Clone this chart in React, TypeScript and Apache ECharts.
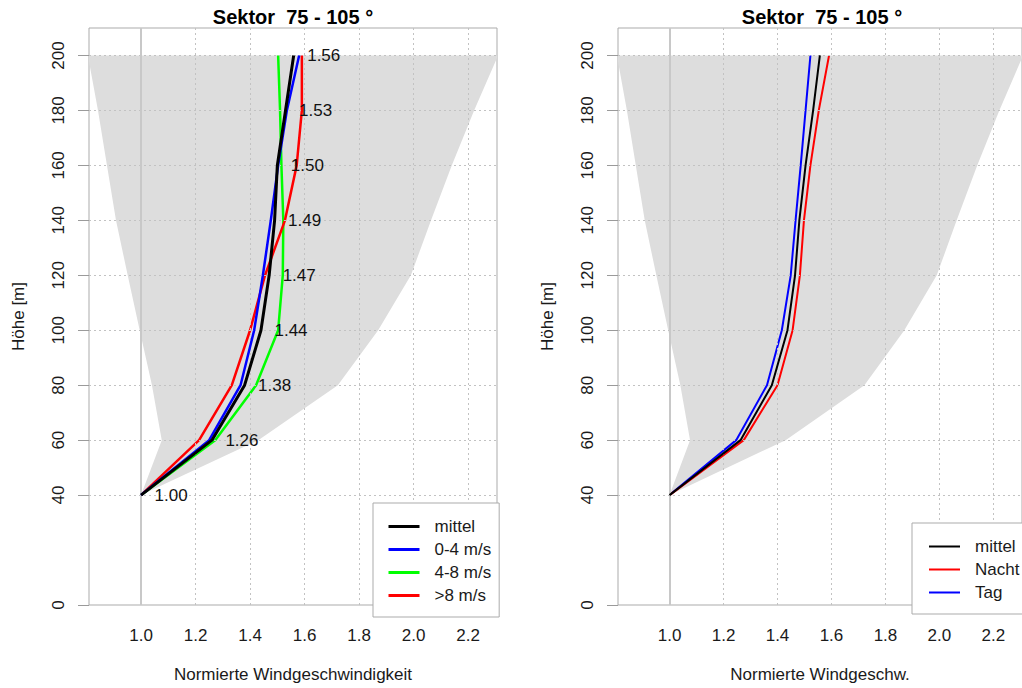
import React, { useEffect, useRef } from "react";
import * as echarts from "echarts";

// ---------- data ----------
const heights = [40, 60, 80, 100, 120, 140, 160, 180, 200];

// left panel (wind speed classes)
const mittelLeft = [1.0, 1.26, 1.38, 1.44, 1.47, 1.49, 1.5, 1.53, 1.56];
const speed04 = [1.0, 1.25, 1.365, 1.415, 1.447, 1.476, 1.503, 1.535, 1.58];
const speed48 = [1.0, 1.272, 1.422, 1.503, 1.52, 1.522, 1.515, 1.51, 1.503];
const speed8 = [1.0, 1.213, 1.333, 1.4, 1.455, 1.528, 1.571, 1.59, 1.59];

// right panel (day / night)
const mittelRight = [1.0, 1.263, 1.379, 1.437, 1.465, 1.481, 1.504, 1.532, 1.557];
const nacht = [1.0, 1.275, 1.4, 1.456, 1.483, 1.498, 1.522, 1.553, 1.591];
const tag = [1.0, 1.247, 1.361, 1.416, 1.449, 1.467, 1.486, 1.504, 1.522];

// grey envelope (min / max per height)
const envLeft = [1.0, 1.076, 1.04, 0.995, 0.951, 0.908, 0.875, 0.842, 0.805];
const envRight = [1.0, 1.43, 1.722, 1.87, 1.99, 2.064, 2.14, 2.222, 2.31];

// axes
const xTickLabels = [1.0, 1.2, 1.4, 1.6, 1.8, 2.0, 2.2];
const yTickLabels = [0, 40, 60, 80, 100, 120, 140, 160, 180, 200];
const xGridLines = [1.2, 1.4, 1.6, 1.8, 2.0, 2.2];
const yGridLines = [40, 60, 80, 100, 120, 140, 160, 180, 200];
const refLine = 1.0;
const X_MIN = 0.809;
const X_MAX = 2.306;
const Y_MIN = 0;
const Y_MAX = 210;

const TITLE = "Sektor  75 - 105 °";
const FONT = "'Liberation Sans', Arial, Helvetica, sans-serif";
const TEXT = "#1a1a1a";

const pairs = (v: number[]) => v.map((x, i) => [x, heights[i]]);
const envelope = [
  ...envRight.map((x, i) => [x, heights[i]]),
  ...envLeft.map((x, i) => [x, heights[i]]).reverse(),
];

function xAxis(gridIndex: number, name: string) {
  return {
    type: "value",
    gridIndex,
    min: X_MIN,
    max: X_MAX,
    name,
    nameLocation: "middle",
    nameGap: 61,
    nameTextStyle: { fontFamily: FONT, fontSize: 17, color: TEXT },
    axisLine: { show: false },
    axisTick: { show: false },
    splitLine: { show: false },
    axisLabel: {
      customValues: xTickLabels,
      formatter: (v: number) => v.toFixed(1),
      margin: 22,
      fontFamily: FONT,
      fontSize: 17,
      color: TEXT,
    },
  };
}

function yAxis(gridIndex: number) {
  return {
    type: "value",
    gridIndex,
    min: Y_MIN,
    max: Y_MAX,
    name: "Höhe [m]",
    nameLocation: "middle",
    nameRotate: 90,
    nameGap: 62,
    nameTextStyle: { fontFamily: FONT, fontSize: 17, color: TEXT },
    axisLine: { show: false },
    axisTick: {
      show: true,
      customValues: yTickLabels,
      length: 11,
      lineStyle: { color: "#9a9a9a", width: 1 },
    },
    splitLine: { show: false },
    axisLabel: {
      customValues: yTickLabels,
      rotate: 90,
      margin: 22,
      fontFamily: FONT,
      fontSize: 17,
      color: TEXT,
    },
  };
}

function panelBackground(idx: number) {
  return [
    {
      type: "custom",
      name: "envelope" + idx,
      xAxisIndex: idx,
      yAxisIndex: idx,
      clip: true,
      silent: true,
      z: 1,
      data: envelope,
      encode: { x: 0, y: 1 },
      renderItem: (params: any, api: any) => {
        if (params.dataIndex !== 0) return null;
        const pts = envelope.map((p) => api.coord(p));
        return {
          type: "polygon",
          shape: { points: pts },
          style: { fill: "#dddddd", stroke: "none" },
        };
      },
    },
    {
      type: "line",
      name: "grid" + idx,
      xAxisIndex: idx,
      yAxisIndex: idx,
      data: [],
      silent: true,
      z: 2,
      markLine: {
        silent: true,
        symbol: ["none", "none"],
        label: { show: false },
        emphasis: { disabled: true },
        lineStyle: { color: "#c2c2c2", width: 1, type: [2, 3] },
        data: [
          ...xGridLines.map((x) => ({ xAxis: x })),
          ...yGridLines.map((y) => ({ yAxis: y })),
        ],
      },
    },
    {
      type: "line",
      name: "ref" + idx,
      xAxisIndex: idx,
      yAxisIndex: idx,
      data: [],
      silent: true,
      z: 2,
      markLine: {
        silent: true,
        symbol: ["none", "none"],
        label: { show: false },
        emphasis: { disabled: true },
        lineStyle: { color: "#c8c8c8", width: 2, type: "solid" },
        data: [{ xAxis: refLine }],
      },
    },
  ];
}

function lineSeries(idx: number, name: string, values: number[], color: string, width: number, z: number) {
  return {
    type: "line",
    name,
    xAxisIndex: idx,
    yAxisIndex: idx,
    data: pairs(values),
    symbol: "none",
    color,
    lineStyle: { color, width },
    z,
    silent: true,
  };
}

export default function App() {
  const ref = useRef<HTMLDivElement>(null);
  useEffect(() => {
    if (!ref.current) return;
    const chart = echarts.init(ref.current, null, { renderer: "svg" });
    const legendCommon = {
      orient: "vertical",
      selectedMode: false,
      itemWidth: 31,
      itemHeight: 14,
      itemGap: 6,
      borderColor: "#ababab",
      borderWidth: 1,
      borderRadius: 0,
      backgroundColor: "#ffffff",
      itemStyle: { opacity: 0 },
      textStyle: { fontFamily: FONT, fontSize: 17, color: TEXT, padding: [0, 0, 0, 10] },
      z: 10,
    };
    const option: any = {
      animation: false,
      backgroundColor: "#ffffff",
      textStyle: { fontFamily: FONT },
      grid: [
        { left: 89, top: 28, width: 408, height: 578, show: true, borderColor: "#ababab", borderWidth: 1, backgroundColor: "transparent" },
        { left: 618, top: 28, width: 408, height: 578, show: true, borderColor: "#ababab", borderWidth: 1, backgroundColor: "transparent" },
      ],
      xAxis: [xAxis(0, "Normierte Windgeschwindigkeit"), xAxis(1, "Normierte Windgeschw.")],
      yAxis: [yAxis(0), yAxis(1)],
      graphic: [
        {
          type: "text",
          x: 293,
          y: 17,
          style: { text: TITLE, font: `bold 20px ${FONT}`, fill: "#000", align: "center", verticalAlign: "middle" },
        },
        {
          type: "text",
          x: 822,
          y: 17,
          style: { text: TITLE, font: `bold 20px ${FONT}`, fill: "#000", align: "center", verticalAlign: "middle" },
        },
      ],
      legend: [
        {
          ...legendCommon,
          left: 373,
          top: 503,
          data: ["mittel", "0-4 m/s", "4-8 m/s", ">8 m/s"],
          padding: [15, 8, 13, 14],
          lineStyle: { width: 3 },
        },
        {
          ...legendCommon,
          left: 912,
          top: 523,
          data: ["mittel", "Nacht", "Tag"],
          padding: [15, 60, 13, 16],
          lineStyle: { width: 2 },
        },
      ],
      series: [
        ...panelBackground(0),
        lineSeries(0, "4-8 m/s", speed48, "#00ff00", 2.5, 3),
        lineSeries(0, ">8 m/s", speed8, "#ff0000", 2.5, 4),
        lineSeries(0, "0-4 m/s", speed04, "#0000ff", 2.5, 5),
        lineSeries(0, "mittel", mittelLeft, "#000000", 3, 6),
        {
          type: "scatter",
          name: "labels",
          xAxisIndex: 0,
          yAxisIndex: 0,
          data: pairs(mittelLeft),
          symbolSize: 1,
          itemStyle: { color: "#000000", opacity: 0 },
          silent: true,
          z: 7,
          label: {
            show: true,
            position: "right",
            distance: 13,
            formatter: (p: any) => p.value[0].toFixed(2),
            fontFamily: FONT,
            fontSize: 17,
            color: "#111111",
            opacity: 1,
            textBorderWidth: 0,
          },
        },
        ...panelBackground(1),
        lineSeries(1, "Tag", tag, "#0000ff", 2, 3),
        lineSeries(1, "Nacht", nacht, "#ff0000", 2, 4),
        lineSeries(1, "mittel", mittelRight, "#000000", 2, 5),
      ],
    };
    chart.setOption(option);
    return () => chart.dispose();
  }, []);
  return (
    <div
      ref={ref}
      style={{ position: "absolute", left: 0, top: 0, width: 1022, height: 688, background: "#fff" }}
    />
  );
}
